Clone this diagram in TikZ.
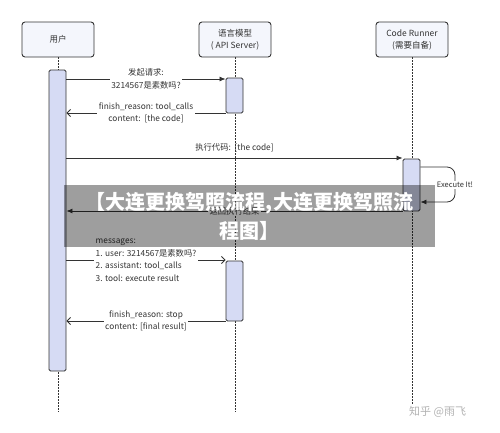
\documentclass[tikz,border=0pt]{standalone}
\usepackage{fontspec}
\setmainfont{Noto Sans CJK SC}
\usetikzlibrary{arrows.meta,calc}
\definecolor{boxfill}{HTML}{F4F6FC}
\definecolor{barfill}{HTML}{D6DBF4}
\definecolor{ink}{HTML}{333333}
\tikzset{
  actor/.style={draw=ink, line width=0.9pt, rounded corners=3pt, fill=boxfill, minimum width=72pt, minimum height=35pt, align=center, font=\fontsize{8.5}{12}\selectfont, text=ink, inner sep=0pt},
  actbar/.style={draw=ink, line width=0.9pt, rounded corners=1.5pt, fill=barfill, minimum width=17pt, inner sep=0pt},
  life/.style={ink, line width=0.9pt, dash pattern=on 1.5pt off 1.5pt},
  msg/.style={ink, line width=0.8pt},
  sync/.style={msg, -{Latex[length=6pt,width=5pt]}},
  reply/.style={msg, -{Straight Barb[length=3.5pt,width=7pt]}},
  lbl/.style={fill=white, inner sep=1.5pt, font=\fontsize{8.3}{12.5}\selectfont, text=ink},
}
\begin{document}
\begin{tikzpicture}[x=1pt,y=-1pt]
\useasboundingbox (0,0) rectangle (500,432);
% actors
\node[actor] (u) at (58,39.5) {用户};
\node[actor] (m) at (235,39.5) {语言模型\\( API Server)};
\node[actor] (c) at (412,39.5) {Code Runner\\(需要自备)};
% lifelines
\coordinate (uend) at (58,412);
\coordinate (mend) at (235,412);
\coordinate (cend) at (412,405);
\draw[life] (u.south) -- (uend);
\draw[life] (m.south) -- (mend);
\draw[life] (c.south) -- (cend);
% activation bars
\node[actbar, minimum height=301pt] (ua) at (57.5,220.5) {};
\node[actbar, minimum height=35pt] (ma1) at (234.5,95.5) {};
\node[actbar, minimum height=52pt] (ca) at (411.5,185) {};
\node[actbar, minimum height=60pt] (ma2) at (234.5,291) {};
% message 1
\coordinate (p1a) at (ua.east |- 0,79);
\coordinate (p1b) at (ma1.west |- 0,79);
\draw[sync] (p1a) -- (p1b) node[lbl, midway, align=center] {发起请求:\\3214567是素数吗?};
% message 2
\coordinate (p2a) at (ma1.west |- 0,113);
\coordinate (p2b) at (ua.east |- 0,113);
\draw[reply] (p2a) -- (p2b) node[lbl, midway, align=center] {finish\_reason: tool\_calls\\content:\ \ [the code]};
% message 3
\coordinate (p3a) at (ua.east |- 0,158);
\coordinate (p3b) at (ca.west |- 0,158);
\draw[sync] (p3a) -- (p3b) node[midway, above=2pt, font=\fontsize{8.3}{10}\selectfont, text=ink] {执行代码:\ \ [the code]};
% self loop
\coordinate (s1) at (ca.east |- 0,167);
\coordinate (s2) at (ca.east |- 0,202);
\draw[sync, rounded corners=8pt] (s1) -- (455,167) -- (455,202) -- (s2);
\node[lbl, font=\fontsize{7.5}{9}\selectfont, inner sep=1pt] (ex) at (455,185) {Execute It!};
% return result
\coordinate (p4a) at (ca.west |- 0,211);
\coordinate (p4b) at (ua.east |- 0,211);
\draw[sync] (p4a) -- (p4b) node[lbl, midway] {返回执行结果};
% message 5
\coordinate (p5a) at (ua.east |- 0,260);
\coordinate (p5b) at (ma2.west |- 0,260);
\draw[reply] (p5a) -- (p5b) node[lbl, midway, align=left] {messages:\\1. user: 3214567是素数吗?\\2. assistant: tool\_calls\\3. tool: execute result};
% message 6
\coordinate (p6a) at (ma2.west |- 0,321);
\coordinate (p6b) at (ua.east |- 0,321);
\draw[reply] (p6a) -- (p6b) node[lbl, midway, align=center] {finish\_reason: stop\\content: [final result]};
% banner overlay
\fill[black, fill opacity=0.38] (64,185) rectangle (435,247);
\node[text=white, font=\fontsize{20}{29}\selectfont\bfseries, align=center] (ban) at (249.5,216) {【大连更换驾照流程,大连更换驾照流\\程图】};
% watermark
\node[anchor=west, text=black!30, font=\fontsize{11}{12}\selectfont, inner sep=0pt] (wm) at (409,412) {知乎 @雨飞};
\end{tikzpicture}
\end{document}
